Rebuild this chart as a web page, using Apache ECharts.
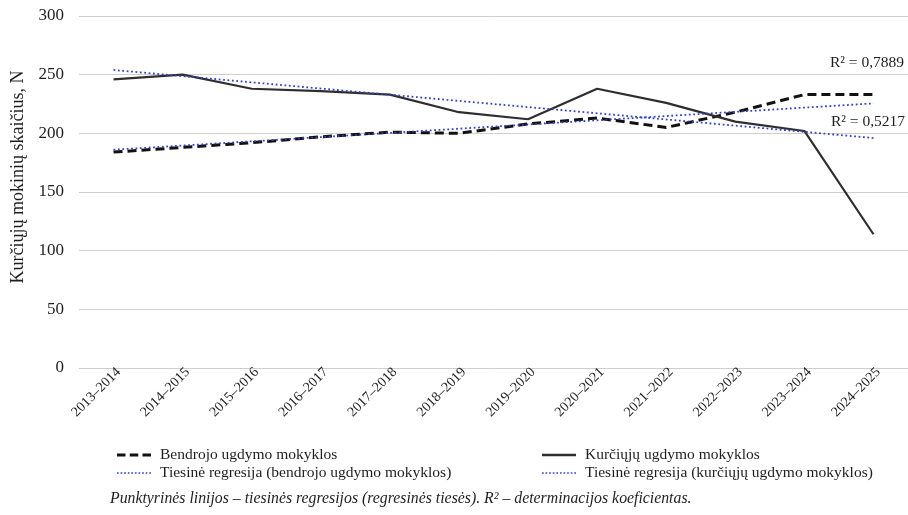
<!DOCTYPE html>
<html><head><meta charset="utf-8">
<script src="https://cdn.jsdelivr.net/npm/echarts@6/dist/echarts.min.js"></script>
<style>html,body{margin:0;padding:0;background:#fff}#c{width:908px;height:515px}</style>
</head><body><div id="c"></div>
<script>
const categories = ['2013–2014','2014–2015','2015–2016','2016–2017','2017–2018','2018–2019','2019–2020','2020–2021','2021–2022','2022–2023','2023–2024','2024–2025'];
const bendrojo = [184,188,192,197,201,200,208,213,205,218,233,233];
const kurciuju = [246,250,238,236,233,218,212,238,226,210,202,114];
const trendBendrojoEnds = [186,225.5];
const trendKurciujuEnds = [254,196];
const yTicks = {min:0,max:300,interval:50};
const r2Labels = ['R² = 0,7889','R² = 0,5217'];
const names = ['Bendrojo ugdymo mokyklos','Kurčiųjų ugdymo mokyklos','Tiesinė regresija (bendrojo ugdymo mokyklos)','Tiesinė regresija (kurčiųjų ugdymo mokyklos)'];

const font = 'Liberation Serif';
const dark = '#1e1e1e';
const blue = '#3344bb';
const dashIcon = 'path://M0,0h8v3h-8z M12,0h8v3h-8z M24,0h8v3h-8z';
const solidIcon = 'path://M0,0h34v2.6h-34z';
let dotIcon = 'path://';
for (let i = 0; i < 10; i++) dotIcon += 'M' + (i*3.4) + ',0h1.6v1.6h-1.6z ';

const chart = echarts.init(document.getElementById('c'));
const last = categories.length - 1;
function legendAt(left, top, name, icon){
  return {left:left,top:top,orient:'vertical',itemWidth:34,itemHeight:10,
    textStyle:{fontFamily:font,fontSize:15.5,color:dark,padding:[0,0,0,4]},
    data:[{name:name,icon:icon}]};
}
chart.setOption({
  animation:false,
  textStyle:{fontFamily:font,color:dark},
  grid:{left:79,right:-8,top:16,bottom:147},
  xAxis:{type:'category',data:categories,boundaryGap:true,
    axisLine:{show:false},axisTick:{show:false},
    axisLabel:{rotate:45,fontFamily:font,fontSize:14,color:dark,margin:7,interval:0,padding:[0,-7,0,0]}},
  yAxis:{type:'value',min:yTicks.min,max:yTicks.max,interval:yTicks.interval,
    axisLine:{show:false},axisTick:{show:false},
    axisLabel:{fontFamily:font,fontSize:17,color:dark,margin:15},
    splitLine:{lineStyle:{color:'#cfcfcf',width:1}}},
  legend:[
    legendAt(112,442,names[0],dashIcon),
    legendAt(112,460,names[2],dotIcon),
    legendAt(537,442,names[1],solidIcon),
    legendAt(537,460,names[3],dotIcon)
  ],
  graphic:[
    {type:'text',x:18,y:177,rotation:Math.PI/2,
     style:{text:'Kurčiųjų mokinių skaičius, N',fontFamily:font,fontSize:18,fill:dark,align:'center',verticalAlign:'middle'}},
    {type:'text',left:110,top:491,style:{text:'Punktyrinės linijos – tiesinės regresijos (regresinės tiesės). R² – determinacijos koeficientas.',
      fontFamily:font,fontStyle:'italic',fontSize:15.8,fill:dark}},
    {type:'text',right:4,top:55,style:{text:r2Labels[0],fontFamily:font,fontSize:15.5,fill:dark}},
    {type:'text',right:3,top:114,style:{text:r2Labels[1],fontFamily:font,fontSize:15.5,fill:dark}}
  ],
  series:[
    {name:names[2],type:'line',symbol:'none',
     data:[[categories[0],trendBendrojoEnds[0]],[categories[last],trendBendrojoEnds[1]]],
     lineStyle:{color:blue,width:1.8,type:[1.8,2.6]},itemStyle:{color:blue},z:3},
    {name:names[3],type:'line',symbol:'none',
     data:[[categories[0],trendKurciujuEnds[0]],[categories[last],trendKurciujuEnds[1]]],
     lineStyle:{color:blue,width:1.8,type:[1.8,2.6]},itemStyle:{color:blue},z:3},
    {name:names[0],type:'line',symbol:'none',data:bendrojo,
     lineStyle:{color:'#111',width:3,type:[9,5]},itemStyle:{color:'#111'},z:2},
    {name:names[1],type:'line',symbol:'none',data:kurciuju,
     lineStyle:{color:'#2e2e2e',width:2.2,type:'solid'},itemStyle:{color:'#2e2e2e'},z:2}
  ]
});
</script></body></html>
